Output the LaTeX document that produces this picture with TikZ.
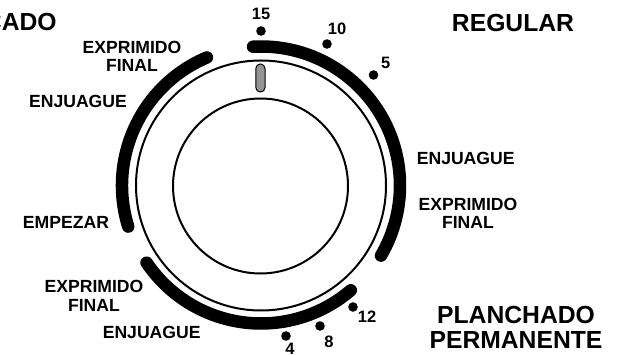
\documentclass[tikz,border=0pt]{standalone}
\usepackage{fontspec}
\setmainfont{Liberation Sans}
\tikzset{
  every node/.style={inner sep=0pt,outer sep=0pt,font=\bfseries},
  small/.style={font=\fontsize{17.6}{18.5}\selectfont\bfseries,align=center,anchor=base},
  big/.style={font=\fontsize{24.7}{24.3}\selectfont\bfseries,align=center,anchor=base},
  num/.style={font=\fontsize{16.5}{17}\selectfont\bfseries,anchor=base},
  thin ring/.style={draw=black,line width=2pt},
  thick arc/.style={draw=black,line width=12.5pt,line cap=round},
  tick dot/.style={fill=black}
}
\begin{document}
\begin{tikzpicture}[x=1pt,y=-1pt]
\path[use as bounding box] (0,0) rectangle (618,355);
\clip (0,0) rectangle (618,355);
\coordinate (c) at (261,185.5);
\draw[thin ring] (c) circle[radius=125];
\draw[thin ring] (260.5,186) circle[radius=87.5];
% thick arcs (y axis is flipped, so angles run clockwise on screen)
\draw[thick arc] (c) ++(162.8:139) arc[start angle=162.8,end angle=247.1,radius=139];
\draw[thick arc] (c) ++(-93.3:139) arc[start angle=-93.3,end angle=30.3,radius=139];
\draw[thick arc] (c) ++(146:138) arc[start angle=146,end angle=49.4,radius=138];
% pointer
\draw[draw=black,line width=1pt,fill=black!42,rounded corners=4.5pt] (255.8,64) rectangle (265,92);
% dots
\fill[tick dot] (261,31) circle[radius=4.8];
\fill[tick dot] (327,44) circle[radius=4.8];
\fill[tick dot] (373.5,75) circle[radius=4.8];
\fill[tick dot] (286,336) circle[radius=4.8];
\fill[tick dot] (320,326) circle[radius=4.8];
\fill[tick dot] (353,307) circle[radius=4.8];
% numbers
\node[num] (n15) at (261,20) {15};
\node[num] (n10) at (337,35) {10};
\node[num] (n5) at (385.7,69) {5};
\node[num] (n4) at (290,354) {4};
\node[num] (n8) at (329,347.3) {8};
\node[num] (n12) at (367,322.3) {12};
% labels
\node[small] (a) at (132,71.7) {EXPRIMIDO\\FINAL};
\node[small] (b) at (78,107.7) {ENJUAGUE};
\node[small] (d) at (66,228.7) {EMPEZAR};
\node[small] (e) at (94,311) {EXPRIMIDO\\FINAL};
\node[small] (f) at (151.7,338) {ENJUAGUE};
\node[small] (g) at (465.7,165) {ENJUAGUE};
\node[small] (h) at (468,228.7) {EXPRIMIDO\\FINAL};
\node[big,anchor=base east] (i) at (56.7,30.7) {CADO};
\node[big] (j) at (513,31.7) {REGULAR};
\node[big] (k) at (516,348) {PLANCHADO\\PERMANENTE};
\end{tikzpicture}
\end{document}
